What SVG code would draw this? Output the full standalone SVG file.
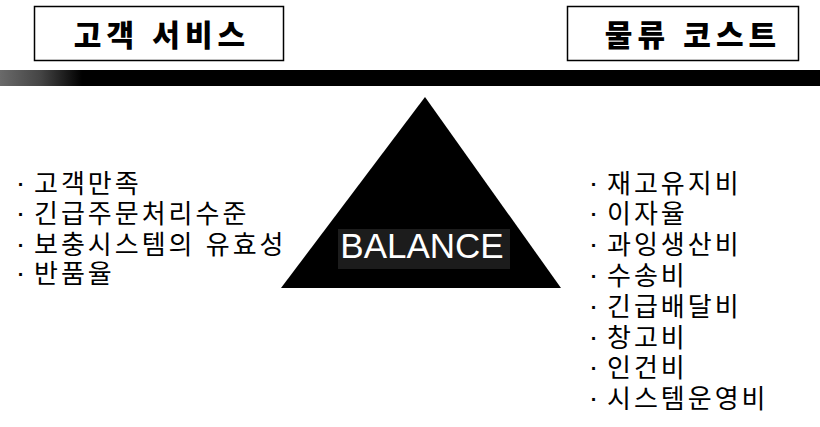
<svg xmlns="http://www.w3.org/2000/svg" width="820" height="427" viewBox="0 0 820 427">
<defs>
<linearGradient id="barGrad" x1="0" y1="0" x2="1" y2="0">
<stop offset="0" stop-color="#6a6a6a"/>
<stop offset="0.05" stop-color="#444"/>
<stop offset="0.1" stop-color="#000"/>
<stop offset="1" stop-color="#000"/>
</linearGradient>
<style>
.box{fill:#fff;stroke:#000;stroke-width:1.5}
.title{font-family:"Liberation Sans","Noto Sans CJK KR",sans-serif;font-weight:900;font-size:30px;letter-spacing:5px;fill:#000;text-anchor:middle}
.item{font-family:"Liberation Sans","Noto Sans CJK KR",sans-serif;font-size:26px;letter-spacing:3px;fill:#000}
.dot{font-family:"Liberation Sans",sans-serif;font-weight:bold;font-size:20px;fill:#000;text-anchor:middle}
.bal{font-family:"Liberation Sans",Arial,sans-serif;font-size:35px;fill:#fff;text-anchor:middle}
</style>
</defs>
<rect width="820" height="427" fill="#fff"/>
<g id="service-title">
<rect class="box" x="34.5" y="6.5" width="249" height="54"/>
<text class="title" x="162" y="46">고객 서비스</text>
</g>
<g id="cost-title">
<rect class="box" x="567.5" y="6.5" width="231" height="54"/>
<text class="title" x="693" y="46">물류 코스트</text>
</g>
<g id="beam">
<rect x="0" y="70" width="820" height="16" fill="url(#barGrad)"/>
</g>
<g id="fulcrum">
<polygon points="425,97 281,288 561,288" fill="#000"/>
<rect x="338" y="229" width="172" height="40" fill="#1c1c1c"/>
<text class="bal" x="422" y="258">BALANCE</text>
</g>
<g id="service-items">
<text class="dot" x="21" y="191">·</text><text class="item" x="34" y="193">고객만족</text>
<text class="dot" x="21" y="221">·</text><text class="item" x="34" y="223">긴급주문처리수준</text>
<text class="dot" x="21" y="252">·</text><text class="item" x="34" y="254">보충시스템의 유효성</text>
<text class="dot" x="21" y="281">·</text><text class="item" x="34" y="283">반품율</text>
</g>
<g id="cost-items">
<text class="dot" x="594" y="191">·</text><text class="item" x="607" y="193">재고유지비</text>
<text class="dot" x="594" y="221">·</text><text class="item" x="607" y="223">이자율</text>
<text class="dot" x="594" y="252">·</text><text class="item" x="607" y="254">과잉생산비</text>
<text class="dot" x="594" y="283">·</text><text class="item" x="607" y="285">수송비</text>
<text class="dot" x="594" y="314">·</text><text class="item" x="607" y="316">긴급배달비</text>
<text class="dot" x="594" y="345">·</text><text class="item" x="607" y="347">창고비</text>
<text class="dot" x="594" y="375">·</text><text class="item" x="607" y="377">인건비</text>
<text class="dot" x="594" y="406">·</text><text class="item" x="607" y="408">시스템운영비</text>
</g>
</svg>
